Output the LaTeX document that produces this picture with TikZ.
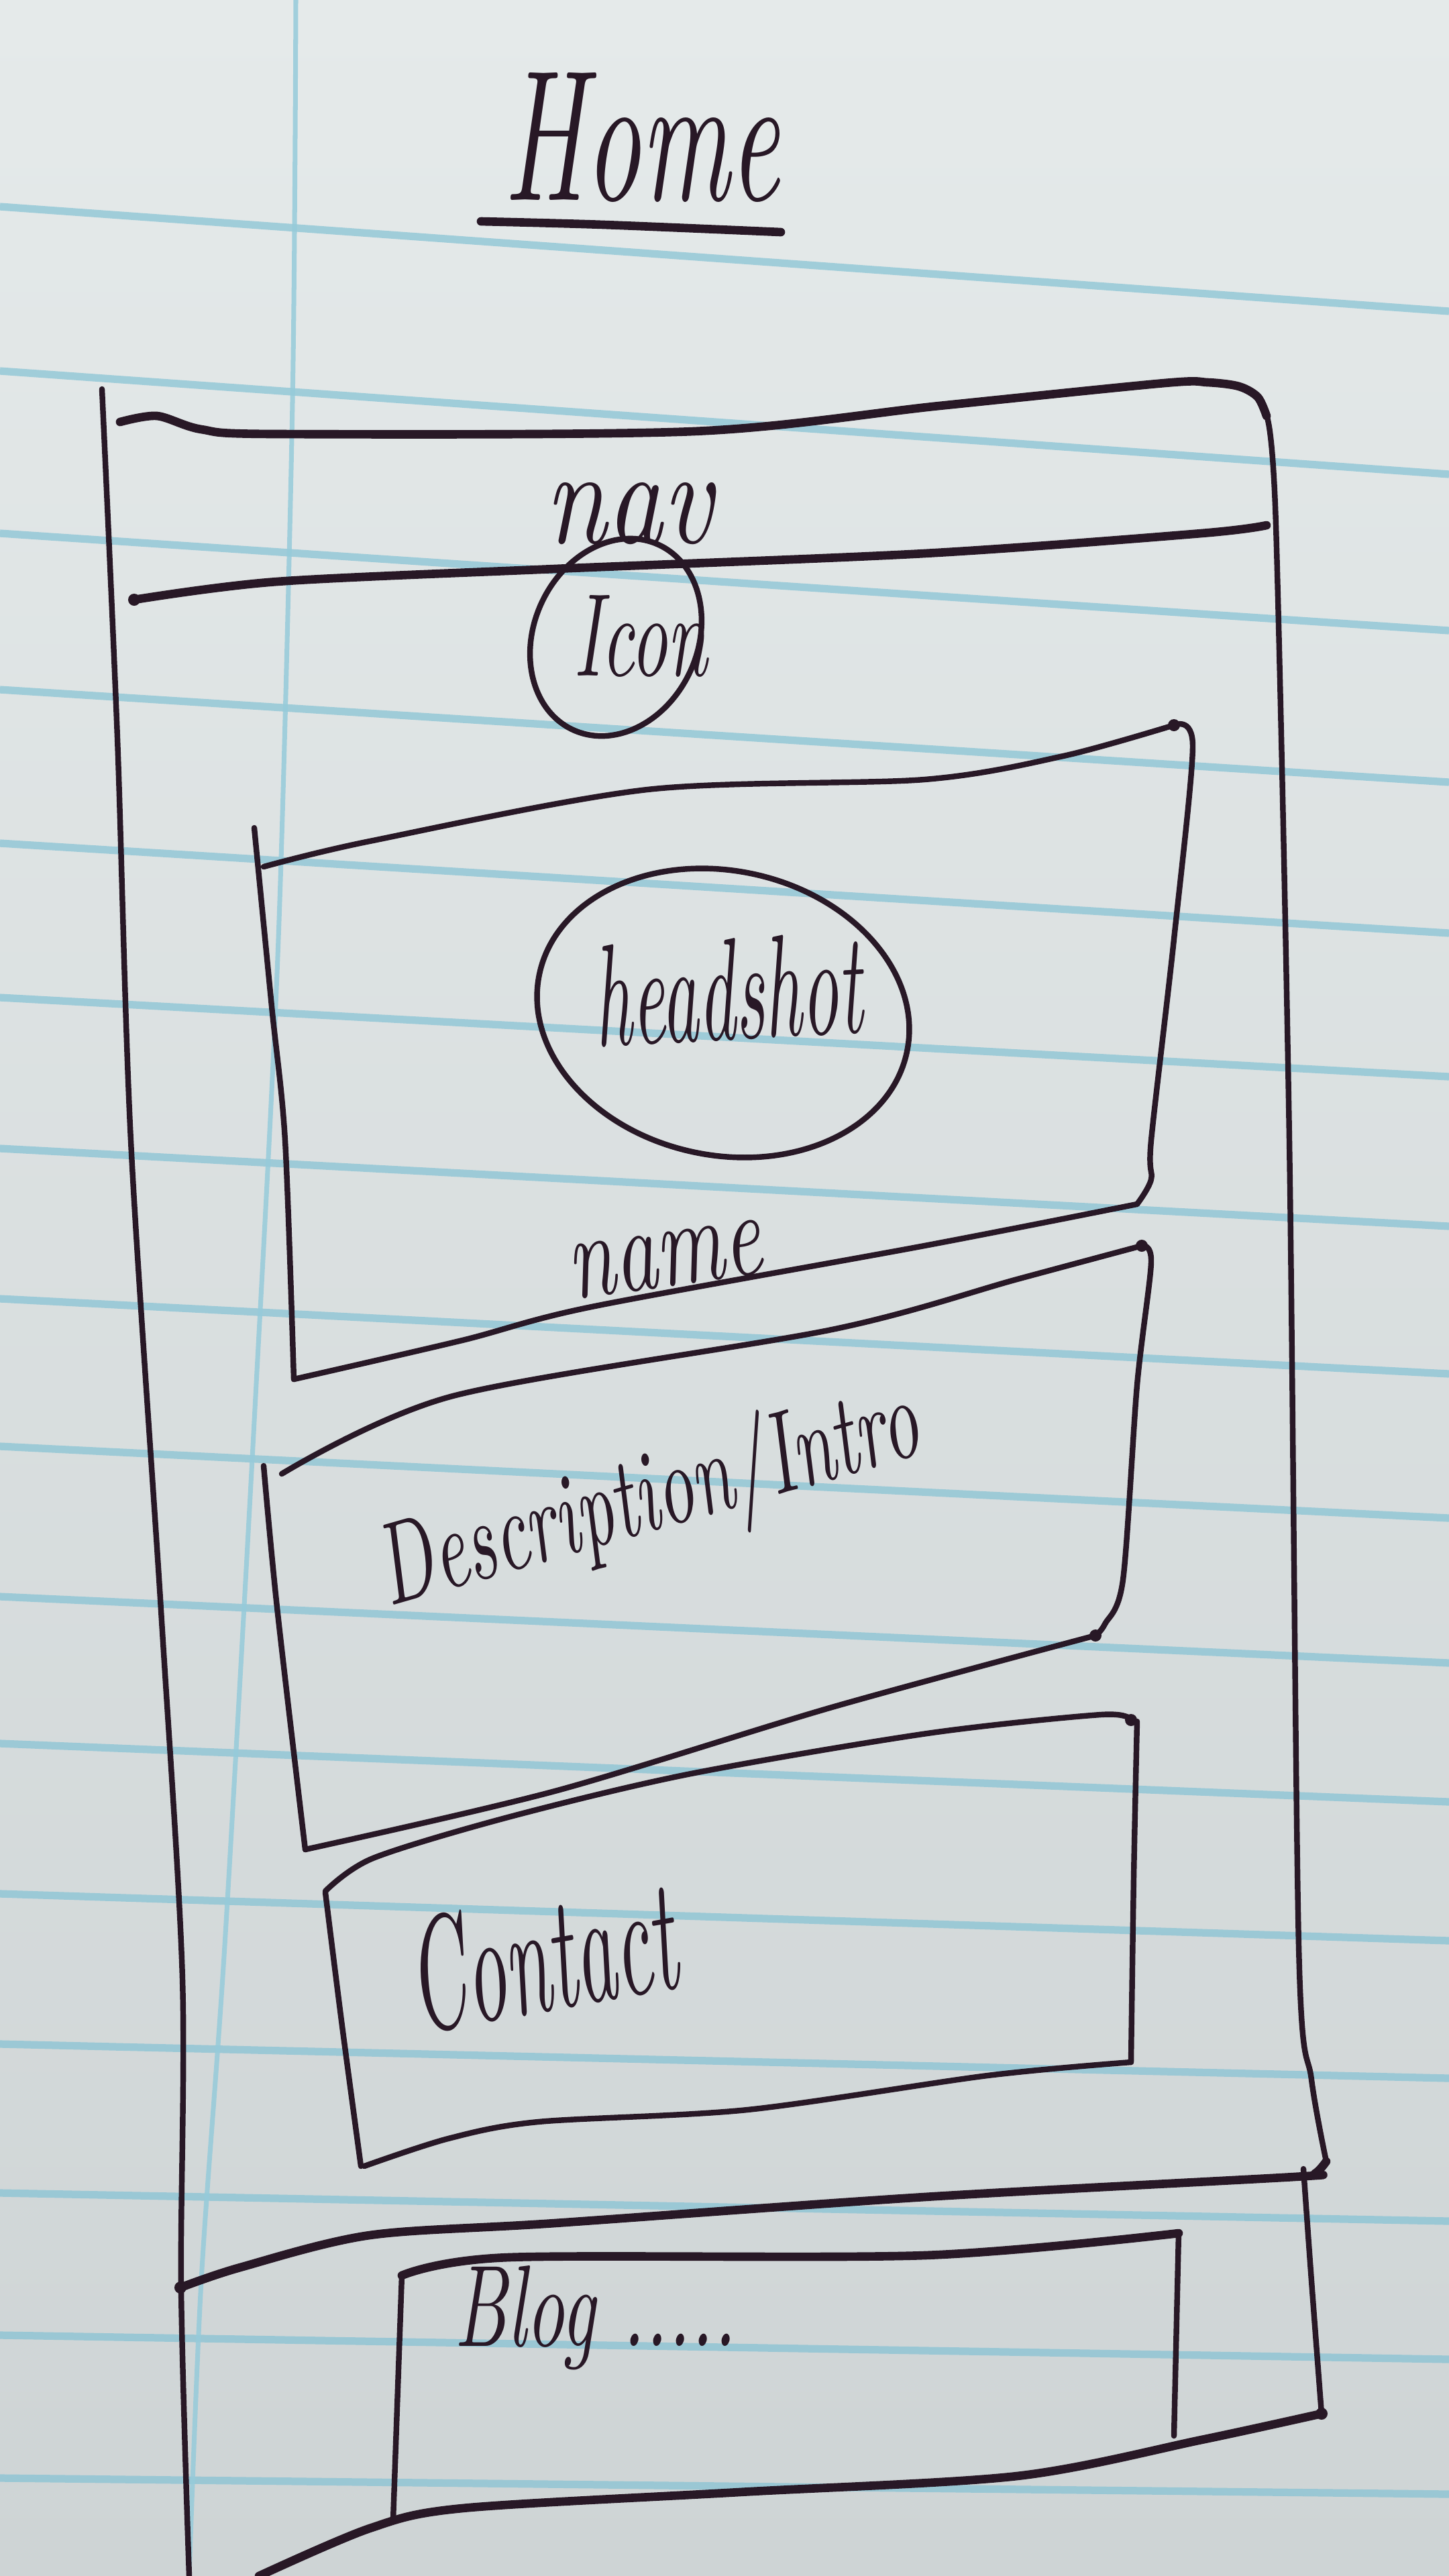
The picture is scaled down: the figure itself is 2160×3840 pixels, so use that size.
\documentclass[tikz,border=0pt]{standalone}
\usepackage{graphicx}
\definecolor{ink}{RGB}{40,24,38}
\definecolor{rulecol}{RGB}{132,194,212}
\definecolor{papertop}{RGB}{229,234,234}
\definecolor{paperbot}{RGB}{206,212,213}
\tikzset{
  pen/.style={draw=ink, line width=2.4pt, line cap=round, line join=round},
  heavypen/.style={pen, line width=3.6pt},
  rulestroke/.style={draw=rulecol, line width=3.2pt, opacity=0.7},
  marginstroke/.style={draw=rulecol!85!white, line width=2pt, opacity=0.85},
  hand/.style={inner sep=0pt, text=ink, font=\itshape},
  inkdot/.style={fill=ink, draw=none},
}
\begin{document}
\begin{tikzpicture}[x=0.1mm,y=-0.1mm]
\useasboundingbox (0,0) rectangle (2160,3840);
% paper
\shade[top color=papertop, bottom color=paperbot] (0,0) rectangle (2160,3840);
\foreach \a/\b in {308/464,553/707,795/940,1028/1166,1257/1391,1487/1605,1712/1828,1936/2048,2156/2263,2380/2479,2599/2686,2823/2893,3047/3098,3269/3311,3481/3517,3694/3718}
  \draw[rulestroke] (0,\a) -- (2160,\b);
\draw[marginstroke] plot[smooth] coordinates {(441,0) (436,600) (415,1400) (380,2100) (335,2900) (300,3400) (282,3840)};

% title
\node[hand] (home) at (957,205) {\resizebox{41mm}{19mm}{Home}};
\draw[heavypen] plot[smooth] coordinates {(717,330) (900,335) (1164,346)};

% outer frame
\draw[pen] plot[smooth] coordinates {(152,580) (175,1100) (195,1700) (240,2400) (272,2950) (270,3410) (282,3840)};
\draw[heavypen] plot[smooth] coordinates {(179,629) (234,620) (300,640) (413,647) (1034,643) (1400,605) (1736,571) (1800,570) (1847,576) (1875,592) (1888,620)};
\draw[pen] plot[smooth] coordinates {(1888,620) (1902,783) (1922,1700) (1936,2900) (1955,3100) (1977,3222)};
\draw[heavypen] plot[smooth] coordinates {(1977,3222) (1960,3240) (1929,3245) (1378,3275) (827,3314) (551,3332) (358,3380) (269,3410)};

% nav bar
\draw[heavypen] plot[smooth] coordinates {(200,894) (413,867) (827,848) (1378,825) (1791,795) (1888,783)};
\node[hand] (nav) at (938,766) {\resizebox{25mm}{9mm}{nav}};

% icon
\draw[pen, rotate around={-25:(918,950)}] (918,950) ellipse [x radius=122, y radius=152];
\node[hand] (icon) at (955,948) {\resizebox{20mm}{12mm}{Icon}};

% headshot box
\draw[pen] plot[smooth] coordinates {(393,1292) (551,1254) (965,1177) (1378,1162) (1585,1127) (1750,1081)};
\draw[pen] plot[smooth] coordinates {(379,1234) (405,1500) (425,1700) (438,2056)};
\draw[pen] plot[smooth] coordinates {(1750,1081) (1778,1112) (1750,1400) (1716,1700) (1716,1758) (1695,1795)};
\draw[pen] plot[smooth] coordinates {(1695,1795) (1378,1857) (882,1948) (689,1998) (438,2056)};
\draw[pen, rotate around={-12:(1078,1510)}] (1078,1510) ellipse [x radius=280, y radius=212];
\node[hand, rotate=3] (headshot) at (1085,1475) {\resizebox{40mm}{15mm}{headshot}};
\node[hand, rotate=8] (name) at (992,1878) {\resizebox{29mm}{8mm}{name}};

% description box
\draw[pen] plot[smooth] coordinates {(420,2197) (675,2081) (1240,1982) (1516,1907) (1702,1857)};
\draw[pen] plot[smooth] coordinates {(393,2185) (413,2396) (455,2757)};
\draw[pen] plot[smooth] coordinates {(1702,1857) (1716,1882) (1695,2065) (1674,2355) (1647,2421) (1633,2438)};
\draw[pen] plot[smooth] coordinates {(1633,2438) (1240,2545) (827,2670) (455,2757)};
\node[hand, rotate=16] (desc) at (968,2238) {\resizebox{83mm}{13mm}{Description/Intro}};

% contact box
\draw[pen] plot[smooth] coordinates {(485,2819) (556,2770) (757,2709) (1025,2645) (1382,2584) (1641,2556) (1686,2564)};
\draw[pen] plot[smooth] coordinates {(1695,2566) (1690,2800) (1686,3074)};
\draw[pen] plot[smooth] coordinates {(1686,3074) (1472,3094) (1114,3145) (802,3163) (668,3188) (543,3229)};
\draw[pen] plot[smooth] coordinates {(485,2821) (510,3020) (538,3229)};
\node[hand, rotate=10] (contact) at (806,2915) {\resizebox{40mm}{17mm}{Contact}};

% footer
\draw[pen] plot[smooth] coordinates {(1943,3233) (1955,3400) (1970,3598)};
\draw[heavypen] plot[smooth] coordinates {(1970,3598) (1791,3637) (1516,3691) (1102,3715) (689,3739) (551,3769) (386,3840)};
\draw[heavypen] plot[smooth] coordinates {(599,3392) (758,3365) (1378,3362) (1757,3329)};
\draw[pen] (599,3392) -- (586,3757);
\draw[pen] (1757,3329) -- (1750,3631);
\node[hand] (blog) at (888,3455) {\resizebox{42mm}{12mm}{Blog .....}};

% pen dots
\foreach \p in {(200,894),(1750,1081),(1702,1857),(1633,2438),(1686,2564),(269,3410),(1970,3598)}
  \fill[inkdot] \p circle [radius=9];
\end{tikzpicture}
\end{document}
